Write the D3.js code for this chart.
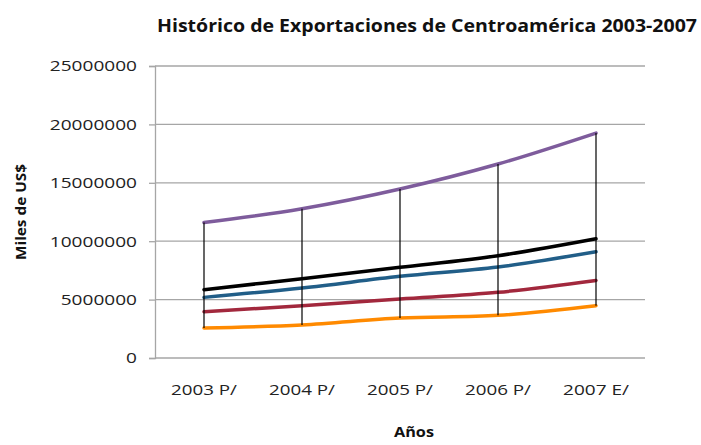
<!DOCTYPE html>
<html>
<head>
<meta charset="utf-8">
<script src="https://cdn.jsdelivr.net/npm/d3@7"></script>
<style>
  body { margin: 0; background: #fff; }
  text { font-family: "Open Sans", sans-serif; }
</style>
</head>
<body>
<div id="chart"></div>
<script>
const years = ['2003 P/', '2004 P/', '2005 P/', '2006 P/', '2007 E/'];
const yTicks = [0, 5000000, 10000000, 15000000, 20000000, 25000000];

// values (miles de US$)
const serieMorada = [11600000, 12780000, 14470000, 16610000, 19260000];
const serieNegra = [5850000, 6790000, 7760000, 8760000, 10210000];
const serieAzul = [5190000, 5990000, 6990000, 7790000, 9100000];
const serieRoja = [3960000, 4480000, 5050000, 5620000, 6640000];
const serieNaranja = [2570000, 2830000, 3420000, 3650000, 4480000];

const series = [
  { name: 'Serie 1', color: '#7e5c9c', values: serieMorada },
  { name: 'Serie 2', color: '#000000', values: serieNegra },
  { name: 'Serie 3', color: '#215e88', values: serieAzul },
  { name: 'Serie 4', color: '#a2283d', values: serieRoja },
  { name: 'Serie 5', color: '#ff8a00', values: serieNaranja }
];

const width = 701, height = 445;
const margin = { left: 155, right: 56, top: 66, bottom: 87 };

const svg = d3.select('#chart').append('svg')
  .attr('width', width)
  .attr('height', height);

const x = d3.scalePoint()
  .domain(years)
  .range([margin.left, width - margin.right])
  .padding(0.5);

const y = d3.scaleLinear()
  .domain([0, 25000000])
  .range([height - margin.bottom, margin.top]);

// grid lines
svg.append('g')
  .selectAll('line')
  .data(yTicks)
  .enter().append('line')
    .attr('x1', margin.left)
    .attr('x2', width - margin.right)
    .attr('y1', d => y(d))
    .attr('y2', d => y(d))
    .attr('stroke', '#a6a6a6')
    .attr('stroke-width', 1.3);

// y axis
const yAxis = svg.append('g')
  .attr('transform', 'translate(' + margin.left + ',0)')
  .call(d3.axisLeft(y).tickValues(yTicks).tickSize(6).tickPadding(12).tickFormat(d3.format('d')));
yAxis.select('.domain').attr('stroke', '#a6a6a6').attr('stroke-width', 1.3);
yAxis.selectAll('.tick line').attr('stroke', '#a6a6a6').attr('stroke-width', 1.3);
yAxis.selectAll('.tick text')
  .attr('font-size', 15)
  .attr('fill', '#222')
  .attr('font-family', '"Open Sans", sans-serif')
  .attr('textLength', d => String(d).length * 10.9)
  .attr('lengthAdjust', 'spacingAndGlyphs');

// x labels
svg.append('g')
  .selectAll('text')
  .data(years)
  .enter().append('text')
    .attr('x', d => x(d))
    .attr('y', 391)
    .attr('text-anchor', 'middle')
    .attr('dominant-baseline', 'middle')
    .attr('font-size', 15)
    .attr('fill', '#222')
    .attr('textLength', 66)
    .attr('lengthAdjust', 'spacingAndGlyphs')
    .text(d => d);

// series lines (smoothed)
const line = d3.line()
  .x((d, i) => x(years[i]))
  .y(d => y(d))
  .curve(d3.curveCatmullRom.alpha(0.5));

svg.append('g')
  .selectAll('path')
  .data(series.slice().reverse())
  .enter().append('path')
    .attr('d', d => line(d.values))
    .attr('fill', 'none')
    .attr('stroke', d => d.color)
    .attr('stroke-width', 3.5)
    .attr('stroke-linecap', 'round');

// high-low lines
const hilo = years.map((yr, i) => {
  const vals = series.map(s => s.values[i]);
  return { year: yr, hi: d3.max(vals), lo: d3.min(vals) };
});

svg.append('g')
  .selectAll('line')
  .data(hilo)
  .enter().append('line')
    .attr('x1', d => x(d.year))
    .attr('x2', d => x(d.year))
    .attr('y1', d => y(d.hi))
    .attr('y2', d => y(d.lo))
    .attr('stroke', '#000')
    .attr('stroke-width', 1.2);

// title
svg.append('text')
  .attr('x', 157)
  .attr('y', 27)
  .attr('dominant-baseline', 'middle')
  .attr('font-size', 18)
  .attr('font-weight', 'bold')
  .attr('fill', '#111')
  .attr('textLength', 540)
  .attr('lengthAdjust', 'spacingAndGlyphs')
  .text('Histórico de  Exportaciones de Centroamérica 2003-2007');

// axis titles
svg.append('text')
  .attr('x', 414)
  .attr('y', 433)
  .attr('text-anchor', 'middle')
  .attr('dominant-baseline', 'middle')
  .attr('font-size', 15)
  .attr('font-weight', 'bold')
  .attr('fill', '#111')
  .attr('textLength', 40)
  .attr('lengthAdjust', 'spacingAndGlyphs')
  .text('Años');

svg.append('text')
  .attr('transform', 'translate(22,212) rotate(-90)')
  .attr('text-anchor', 'middle')
  .attr('dominant-baseline', 'middle')
  .attr('font-size', 15)
  .attr('font-weight', 'bold')
  .attr('fill', '#111')
  .attr('textLength', 96)
  .attr('lengthAdjust', 'spacingAndGlyphs')
  .text('Miles de US$');
</script>
</body>
</html>
